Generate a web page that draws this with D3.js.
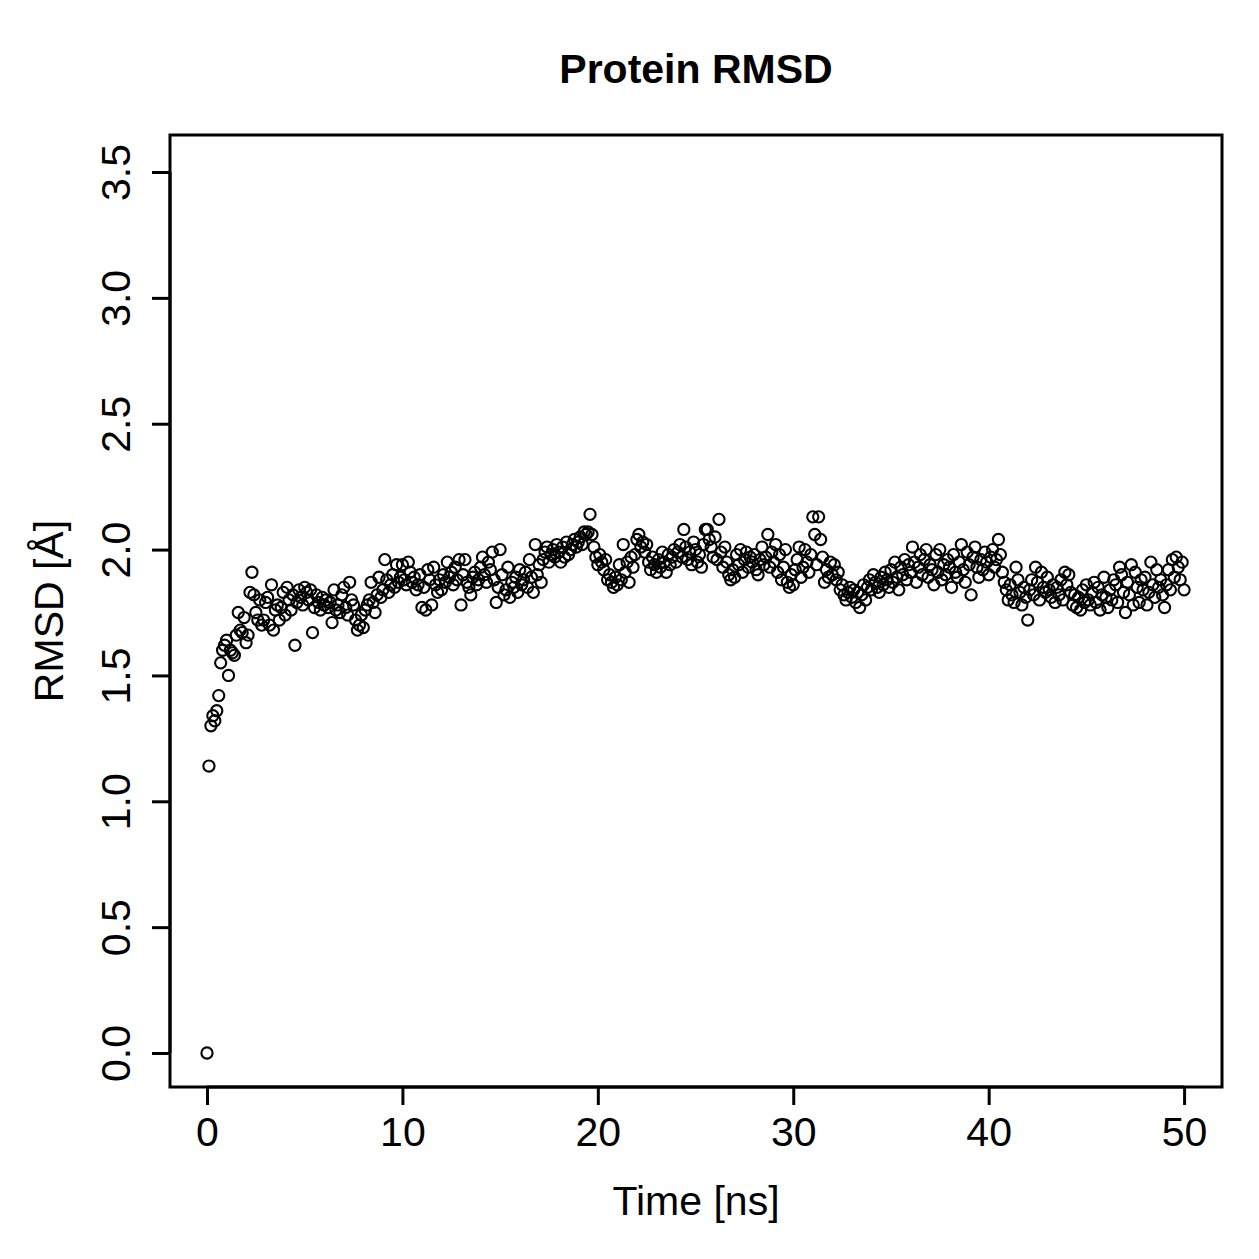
<!DOCTYPE html>
<html>
<head>
<meta charset="utf-8">
<script src="https://cdn.jsdelivr.net/npm/d3@7"></script>
<style>
  body { margin: 0; background: #fff; }
  text { font-family: "Liberation Sans", Arial, Helvetica, sans-serif; fill: #000; }
</style>
</head>
<body>
<div id="chart"></div>
<script>
// Protein RMSD over time, one frame every 0.1 ns
const title = "Protein RMSD";
const xLabel = "Time [ns]";
const yLabel = "RMSD [Å]";
const timeStep = 0.1;
const xTicks = [0, 10, 20, 30, 40, 50];
const yTicks = [0.0, 0.5, 1.0, 1.5, 2.0, 2.5, 3.0, 3.5];

// rmsd values, one row per ns
const rmsd = [
  0.00, 1.14, 1.30, 1.34, 1.32, 1.36, 1.42, 1.55, 1.60, 1.62,
  1.64, 1.50, 1.60, 1.59, 1.58, 1.66, 1.75, 1.68, 1.67, 1.73,
  1.63, 1.66, 1.83, 1.91, 1.82, 1.75, 1.72, 1.80, 1.70, 1.72,
  1.79, 1.81, 1.70, 1.86, 1.68, 1.76, 1.78, 1.72, 1.77, 1.83,
  1.74, 1.85, 1.80, 1.76, 1.82, 1.62, 1.79, 1.84, 1.81, 1.78,
  1.85, 1.83, 1.80, 1.84, 1.67, 1.77, 1.82, 1.79, 1.76, 1.81,
  1.78, 1.80, 1.77, 1.79, 1.71, 1.84, 1.76, 1.78, 1.75, 1.82,
  1.85, 1.77, 1.74, 1.87, 1.80, 1.78, 1.72, 1.68, 1.70, 1.74,
  1.69, 1.76, 1.78, 1.80, 1.87, 1.79, 1.75, 1.82, 1.89, 1.81,
  1.84, 1.96, 1.88, 1.83, 1.86, 1.90, 1.85, 1.94, 1.87, 1.89,
  1.94, 1.88, 1.86, 1.95, 1.91, 1.87, 1.89, 1.84, 1.86, 1.90,
  1.77, 1.85, 1.76, 1.92, 1.88, 1.78, 1.93, 1.86, 1.83, 1.88,
  1.84, 1.90, 1.87, 1.95, 1.89, 1.91, 1.86, 1.93, 1.88, 1.96,
  1.78, 1.90, 1.96, 1.87, 1.85, 1.82, 1.89, 1.91, 1.86, 1.88,
  1.93, 1.97, 1.90, 1.87, 1.95, 1.92, 1.99, 1.88, 1.79, 1.85,
  2.00, 1.90, 1.82, 1.84, 1.93, 1.81, 1.87, 1.85, 1.89, 1.83,
  1.92, 1.86, 1.88, 1.91, 1.85, 1.96, 1.89, 1.83, 2.02, 1.90,
  1.94, 1.87, 1.96, 1.99, 2.01, 1.95, 1.98, 2.00, 1.97, 2.02,
  1.99, 1.95, 2.01, 1.97, 2.03, 1.98, 2.00, 2.02, 2.04, 2.01,
  2.03, 2.05, 2.02, 2.07, 2.06, 2.07, 2.14, 2.06, 2.01, 1.97,
  1.94, 1.98, 1.95, 1.92, 1.96, 1.88, 1.90, 1.87, 1.85, 1.89,
  1.86, 1.94, 1.88, 2.02, 1.91, 1.95, 1.87, 1.97, 1.93, 1.98,
  2.04, 2.06, 2.01, 2.03, 1.99, 2.02, 1.95, 1.92, 1.97, 1.94,
  1.91, 1.96, 1.93, 1.99, 1.95, 1.91, 1.98, 1.94, 1.97, 2.00,
  1.95, 1.99, 2.02, 1.97, 2.08, 2.01, 1.96, 1.99, 1.94, 2.03,
  2.00, 1.95, 1.98, 1.93, 2.02, 2.08, 2.08, 2.04, 2.01, 1.97,
  2.05, 1.96, 2.12, 1.99, 1.93, 2.01, 1.95, 1.90, 1.88, 1.92,
  1.89, 1.98, 1.94, 2.00, 1.91, 1.96, 1.99, 1.93, 1.97, 1.95,
  1.98, 1.92, 1.90, 1.96, 2.01, 1.94, 1.97, 2.06, 1.93, 1.99,
  1.95, 2.02, 1.91, 1.98, 1.88, 1.93, 2.00, 1.87, 1.85, 1.90,
  1.86, 1.92, 1.96, 2.01, 1.89, 1.93, 2.00, 1.95, 1.91, 1.98,
  2.13, 2.06, 1.94, 2.13, 2.04, 1.97, 1.87, 1.92, 1.89, 1.95,
  1.90, 1.94, 1.88, 1.91, 1.84, 1.86, 1.82, 1.80, 1.83, 1.85,
  1.81, 1.84, 1.79, 1.83, 1.77, 1.82, 1.86, 1.80, 1.85, 1.88,
  1.84, 1.90, 1.87, 1.85, 1.83, 1.89, 1.86, 1.91, 1.88, 1.85,
  1.92, 1.87, 1.95, 1.89, 1.84, 1.93, 1.90, 1.96, 1.88, 1.94,
  1.91, 2.01, 1.95, 1.87, 1.93, 1.98, 1.90, 1.96, 2.00, 1.89,
  1.94, 1.92, 1.86, 1.98, 1.91, 2.00, 1.88, 1.94, 1.90, 1.96,
  1.93, 1.85, 1.98, 1.91, 1.89, 1.95, 2.02, 1.92, 1.87, 1.99,
  1.94, 1.82, 1.97, 2.01, 1.93, 1.89, 1.96, 1.92, 1.99, 1.95,
  1.90, 1.97, 2.00, 1.93, 1.96, 2.04, 1.98, 1.91, 1.87, 1.84,
  1.80, 1.86, 1.82, 1.79, 1.93, 1.88, 1.83, 1.78, 1.85, 1.81,
  1.72, 1.84, 1.88, 1.82, 1.93, 1.87, 1.80, 1.91, 1.85, 1.83,
  1.89, 1.84, 1.81, 1.86, 1.79, 1.85, 1.82, 1.88, 1.80, 1.91,
  1.86, 1.90, 1.83, 1.78, 1.82, 1.77, 1.81, 1.76, 1.84, 1.79,
  1.86, 1.80, 1.78, 1.83, 1.87, 1.79, 1.85, 1.76, 1.82, 1.89,
  1.81, 1.77, 1.84, 1.80, 1.88, 1.86, 1.79, 1.93, 1.90, 1.83,
  1.75, 1.87, 1.82, 1.94, 1.78, 1.91, 1.85, 1.79, 1.88, 1.84,
  1.89, 1.78, 1.83, 1.95, 1.86, 1.81, 1.92, 1.85, 1.88, 1.82,
  1.77, 1.86, 1.92, 1.84, 1.96, 1.89, 1.97, 1.93, 1.88, 1.95,
  1.84
];

const width = 1259, height = 1259;
// plot box, like R's default margins
const box = {left: 170, right: 1222, top: 135, bottom: 1087};
const fontSize = 41;

const svg = d3.select("#chart").append("svg")
    .attr("width", width)
    .attr("height", height);

const x = d3.scaleLinear().domain([-1.893, 51.94]).range([box.left, box.right]);
const y = d3.scaleLinear().domain([-0.135, 3.647]).range([box.bottom, box.top]);

// points
svg.append("g")
  .selectAll("circle")
  .data(rmsd)
  .enter().append("circle")
    .attr("cx", (d, i) => x(i * timeStep))
    .attr("cy", d => y(d))
    .attr("r", 5.6)
    .attr("fill", "none")
    .attr("stroke", "#000")
    .attr("stroke-width", 2.1);

// box
svg.append("rect")
    .attr("x", box.left).attr("y", box.top)
    .attr("width", box.right - box.left)
    .attr("height", box.bottom - box.top)
    .attr("fill", "none")
    .attr("stroke", "#000")
    .attr("stroke-width", 3);

// x axis
const xAxis = svg.append("g")
    .attr("transform", "translate(0," + box.bottom + ")")
    .call(d3.axisBottom(x).tickValues(xTicks).tickSize(18).tickPadding(12).tickFormat(d3.format("d")));
xAxis.select(".domain")
    .attr("d", "M" + x(xTicks[0]) + ",0H" + x(xTicks[xTicks.length - 1]))
    .attr("stroke-width", 3);
xAxis.selectAll(".tick line").attr("stroke-width", 3);
xAxis.selectAll(".tick text")
    .attr("font-size", fontSize)
    .attr("font-family", "Liberation Sans, Arial, sans-serif");

// y axis, labels rotated like R's default las=0
const yAxis = svg.append("g")
    .attr("transform", "translate(" + box.left + ",0)")
    .call(d3.axisLeft(y).tickValues(yTicks).tickSize(18).tickFormat(d3.format(".1f")));
yAxis.select(".domain")
    .attr("d", "M0," + y(yTicks[0]) + "V" + y(yTicks[yTicks.length - 1]))
    .attr("stroke-width", 3);
yAxis.selectAll(".tick line").attr("stroke-width", 3);
yAxis.selectAll(".tick text")
    .attr("x", null).attr("dy", null)
    .attr("text-anchor", "middle")
    .attr("font-size", fontSize)
    .attr("font-family", "Liberation Sans, Arial, sans-serif")
    .attr("transform", "translate(-40,0) rotate(-90)");

// titles
svg.append("text")
    .attr("x", (box.left + box.right) / 2)
    .attr("y", 83)
    .attr("text-anchor", "middle")
    .attr("font-size", fontSize)
    .attr("font-weight", "bold")
    .text(title);

svg.append("text")
    .attr("x", (box.left + box.right) / 2)
    .attr("y", 1215)
    .attr("text-anchor", "middle")
    .attr("font-size", fontSize)
    .text(xLabel);

svg.append("text")
    .attr("transform", "translate(63," + (box.top + box.bottom) / 2 + ") rotate(-90)")
    .attr("text-anchor", "middle")
    .attr("font-size", fontSize)
    .text(yLabel);
</script>
</body>
</html>
